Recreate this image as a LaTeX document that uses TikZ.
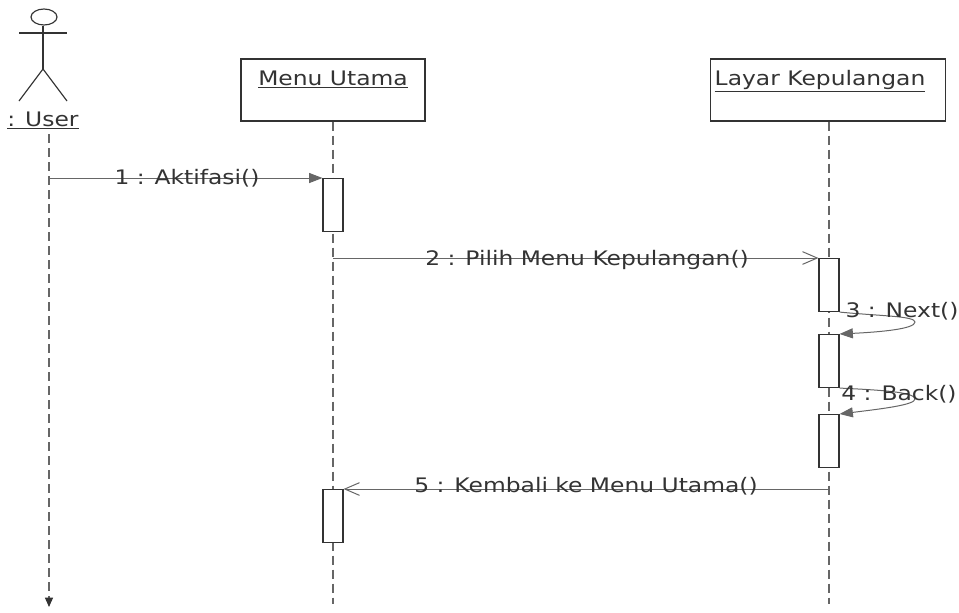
\documentclass[tikz,border=0pt]{standalone}
\usepackage{fontspec}
\setmainfont[FakeStretch=1.17]{DejaVu Sans}
\usetikzlibrary{arrows.meta,shapes.geometric}
\definecolor{ink}{HTML}{333333}
\definecolor{msg}{HTML}{666666}
\tikzset{
  objbox/.style={draw=ink,line width=0.8pt,fill=white,inner sep=0pt,minimum height=46.5pt,text=ink},
  actbox/.style={draw=ink,line width=0.8pt,fill=white,inner sep=0pt,minimum width=15pt,minimum height=39.75pt},
  life/.style={draw=msg,line width=0.8pt,dash pattern=on 7pt off 3.5pt},
  limb/.style={draw=ink,line width=0.85pt},
  synca/.style={draw=msg,line width=0.75pt,-{Triangle[length=10pt,width=7.5pt]}},
  opena/.style={draw=msg,line width=0.75pt,-{Straight Barb[length=11pt,width=9.5pt]}},
  lab/.style={inner sep=0pt,text=ink,font=\fontsize{15}{17}\selectfont},
}
\begin{document}
\begin{tikzpicture}[x=0.75pt,y=-0.75pt]
\useasboundingbox (0,0) rectangle (959,612);
% lifelines
\coordinate (uTop) at (49,134);
\coordinate (uEnd) at (49,607);
\coordinate (uMsg) at (49,178);
\coordinate (mEnd) at (333,604);
\coordinate (lEnd) at (829,604);
\coordinate (mMsg) at (333,258);
\coordinate (lMsg) at (829,489);
\node[objbox,minimum width=138pt] (menu) at (333,90) {};
\node[objbox,minimum width=176pt] (layar) at (828,90) {};
\node[lab,anchor=base] (menuT) at (333,85) {\underline{Menu Utama}};
\node[lab,anchor=base] (layarT) at (820,85) {\underline{Layar Kepulangan}};
\draw[life] (menu.south) -- (mEnd);
\draw[life] (lEnd |- layar.south) -- (lEnd);
\draw[life] (uTop) -- (49,598);
\draw[draw=ink,line width=0.8pt,-{Triangle[length=7pt,width=6pt]}] (49,598) -- (uEnd);
% actor
\node[draw=ink,line width=0.85pt,ellipse,minimum width=19.5pt,minimum height=12pt,inner sep=0pt] (head) at (44,17) {};
\coordinate (hip) at (43,69);
\coordinate (armL) at (19,33);
\coordinate (armR) at (67,33);
\coordinate (legL) at (19,101);
\coordinate (legR) at (67,101);
\draw[limb] (head.south -| hip) -- (hip);
\draw[limb] (armL) -- (armR);
\draw[limb] (legL) -- (hip) -- (legR);
\node[lab,anchor=base] (user) at (43,126) {\underline{: User}};
% activations
\node[actbox,anchor=north] (a1) at (333,178) {};
\node[actbox,anchor=north] (a2) at (333,489) {};
\node[actbox,anchor=north] (b1) at (829,258) {};
\node[actbox,anchor=north] (b2) at (829,334) {};
\node[actbox,anchor=north] (b3) at (829,414) {};
% messages
\draw[synca] (uMsg) -- (a1.north west);
\draw[opena] (mMsg) -- (b1.north west);
\draw[opena] (lMsg) -- (a2.north east);
\draw[synca] (b1.south east) .. controls (880,316) and (915,316) .. (915,322) .. controls (915,329) and (880,332) .. (b2.north east);
\draw[synca] (b2.south east) .. controls (880,390) and (915,392) .. (915,399) .. controls (915,405) and (880,409) .. (b3.north east);
% labels
\node[lab,anchor=base] (m1) at (187,184) {1 : Aktifasi()};
\node[lab,anchor=base] (m2) at (587,265) {2 : Pilih Menu Kepulangan()};
\node[lab,anchor=base] (m3) at (902,317) {3 : Next()};
\node[lab,anchor=base] (m4) at (899,400) {4 : Back()};
\node[lab,anchor=base] (m5) at (586,492) {5 : Kembali ke Menu Utama()};
\end{tikzpicture}
\end{document}
